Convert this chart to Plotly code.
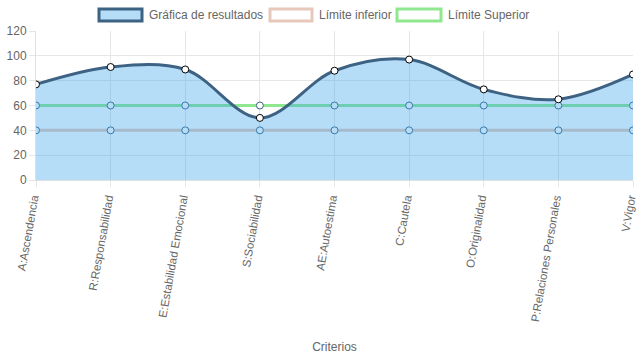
import plotly.graph_objects as go

categories = ["A:Ascendencia", "R:Responsabilidad", "E:Estabilidad Emocional", "S:Sociabilidad",
              "AE:Autoestima", "C:Cautela", "O:Originalidad", "P:Relaciones Personales", "V:Vigor"]
resultados = [77, 91, 89, 50, 88, 97, 73, 65, 85]
limite_inferior = [40] * 9
limite_superior = [60] * 9
y_ticks = [0, 20, 40, 60, 80, 100, 120]
series_names = ["Gráfica de resultados", "Límite inferior", "Límite Superior"]

C_RES = "#3d6283"
C_FILL = "rgba(54,162,235,0.36)"
C_INF = "#e6c9bb"
C_SUP = "#8fe88f"
FONT = "Liberation Sans, Arial, sans-serif"

W, H = 637, 359
ML, MR, MT, MB = 36, 4, 31, 179

fig = go.Figure()
fig.add_trace(go.Scatter(x=categories, y=limite_inferior, mode="lines+markers", name=series_names[1],
                         line=dict(color=C_INF, width=3),
                         marker=dict(size=7, color="white", line=dict(color=C_RES, width=1)),
                         showlegend=False))
fig.add_trace(go.Scatter(x=categories, y=limite_superior, mode="lines+markers", name=series_names[2],
                         line=dict(color=C_SUP, width=3),
                         marker=dict(size=7, color="white", line=dict(color=C_RES, width=1)),
                         showlegend=False))
fig.add_trace(go.Scatter(x=categories, y=resultados, mode="lines+markers", name=series_names[0],
                         line=dict(color=C_RES, width=3, shape="spline", smoothing=1.0),
                         fill="tozeroy", fillcolor=C_FILL,
                         marker=dict(size=7, color="white", line=dict(color="black", width=1)),
                         showlegend=False))

# Chart.js-style legend (boxes + labels) placed in the top margin
def px_x(p):
    return (p - ML) / (W - ML - MR)

def px_y(p):
    return (H - MB - p) / (H - MT - MB)

legend_items = [
    (series_names[0], 99, 142, C_FILL, C_RES),
    (series_names[1], 270, 312, "white", C_INF),
    (series_names[2], 397, 441, "white", C_SUP),
]
for name, x0, x1, fc, lc in legend_items:
    fig.add_shape(type="rect", xref="paper", yref="paper",
                  x0=px_x(x0), x1=px_x(x1), y0=px_y(21), y1=px_y(9),
                  fillcolor=fc, line=dict(color=lc, width=3), layer="above")
    fig.add_annotation(xref="paper", yref="paper", x=px_x(x1 + 5), y=px_y(15),
                       xanchor="left", yanchor="middle", showarrow=False, text=name,
                       font=dict(family=FONT, size=12, color="#666"))

fig.update_layout(
    width=W, height=H,
    margin=dict(l=ML, r=MR, t=MT, b=MB, autoexpand=False),
    paper_bgcolor="white", plot_bgcolor="white",
    font=dict(family=FONT, size=12, color="#666"),
    showlegend=False,
    xaxis=dict(type="category", range=[0, len(categories) - 1], tickangle=-80,
               showgrid=True, gridcolor="#e6e6e6", ticks="outside", ticklen=6, tickcolor="#e6e6e6",
               showline=True, linecolor="#e0e0e0",
               title=dict(text="Criterios", font=dict(size=12, color="#666"), standoff=20),
               tickfont=dict(size=11.5, color="#666"), automargin=False, ticklabelshift=-3),
    yaxis=dict(range=[0, 120], tickvals=y_ticks, showgrid=True, gridcolor="#e6e6e6",
               ticks="outside", ticklen=6, tickcolor="#e6e6e6", zeroline=False,
               showline=True, linecolor="#e0e0e0", tickfont=dict(size=12, color="#666"),
               automargin=False),
)
fig.write_html("out.html", config={"displayModeBar": False},
               post_script="document.body.style.margin='0';document.body.style.overflow='hidden';")
